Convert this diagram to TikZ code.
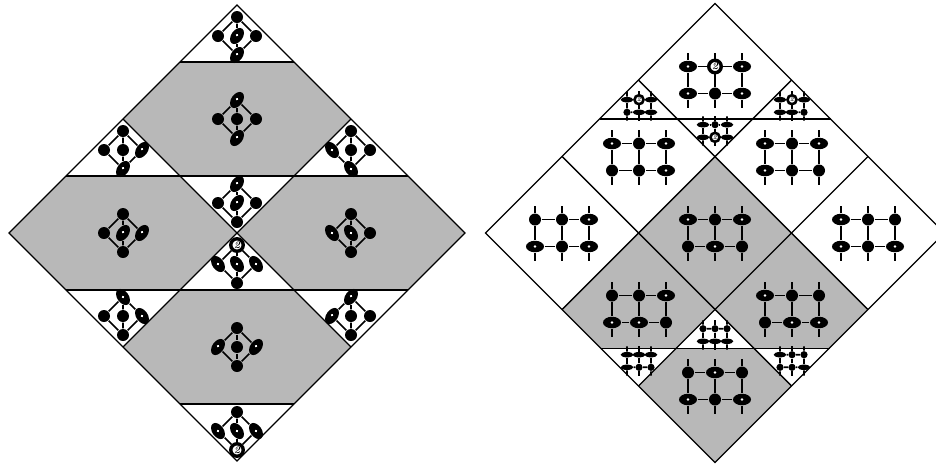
\documentclass[tikz,border=0pt]{standalone}
\usetikzlibrary{shapes.geometric}
\definecolor{cellgray}{gray}{0.72}
\begin{document}
\begin{tikzpicture}[x=1pt, y=-1pt, line width=1.3pt,
      bond/.style={line width=1.7pt},
      spot/.style={circle, fill=black, inner sep=0pt, minimum size=12pt},
      oval/.style={ellipse, fill=black, inner sep=0pt, minimum width=18pt, minimum height=11.5pt,
        path picture={\fill[white] (path picture bounding box.center) circle (1.3pt);}},
      lean/.style={oval, rotate=55},
      back/.style={oval, rotate=-55},
      wide/.style={oval},
      flat/.style={ellipse, fill=black, inner sep=0pt, minimum width=21pt, minimum height=9pt},
      ring/.style={circle, draw=black, line width=3.4pt, fill=white, inner sep=0pt, minimum size=12.5pt,
        label={[inner sep=0pt, font=\fontsize{10}{10}\selectfont\bfseries\itshape]center:2}},
      ringb/.style={ring, minimum size=15pt, line width=2.6pt}]
    \clip (0,0) rectangle (936,467);
    % left tiling
    \foreach \cx/\cy in {237/119, 123/233, 351/233, 237/347}
      \fill[cellgray] (\cx-57,\cy-57) -- (\cx+57,\cy-57) -- (\cx+114,\cy) -- (\cx+57,\cy+57) -- (\cx-57,\cy+57) -- (\cx-114,\cy) -- cycle;
    \draw (237,5) -- (465,233) -- (237,461) -- (9,233) -- cycle;
    \draw (123,119) -- (351,347);
    \draw (351,119) -- (123,347);
    \draw[line width=1.6pt] (180,62) -- (294,62);
    \draw[line width=1.6pt] (66,176) -- (408,176);
    \draw[line width=1.6pt] (66,290) -- (408,290);
    \draw[line width=1.6pt] (180,404) -- (294,404);
    % right tiling
    \fill[cellgray] (715,157) -- (791.4,233) -- (715,309.4) -- (638.6,233) -- cycle;
    \fill[cellgray] (638.6,233) -- (715,309.4) -- (677,348) -- (600.5,348) -- (562.2,309.4) -- cycle;
    \fill[cellgray] (791.4,233) -- (867.8,309.4) -- (829.5,348) -- (753,348) -- (715,309.4) -- cycle;
    \fill[cellgray] (677,348) -- (753,348) -- (791.4,385.8) -- (715,462.5) -- (638.6,385.8) -- cycle;
    \draw (715,3.5) -- (944.5,233) -- (715,462.5) -- (485.5,233) -- cycle;
    \draw (638.6,80.2) -- (867.8,309.4);
    \draw (791.4,80.2) -- (562.2,309.4);
    \draw (562.2,156.6) -- (791.4,385.8);
    \draw (867.8,156.6) -- (638.6,385.8);
    \draw[line width=1.6pt] (599.5,119) -- (830.5,119);
    \draw[line width=1pt] (600.5,348) -- (829.5,348);
    % diamond cells
    \foreach \nm/\cx/\cy/\st/\sl/\sm/\sr/\sb in {
        ta/237/36/spot/spot/lean/spot/lean,
        tb/237/119/lean/spot/spot/spot/lean,
        tc/123/150/spot/spot/spot/lean/lean,
        td/351/150/spot/back/spot/spot/back,
        te/237/203/lean/spot/lean/spot/spot,
        tf/123/233/spot/spot/lean/lean/spot,
        tg/351/233/spot/back/back/spot/spot,
        th/237/264/ring/back/back/back/spot,
        ti/123/316/back/spot/spot/back/spot,
        tj/351/316/lean/lean/spot/spot/spot,
        tk/237/347/spot/lean/spot/lean/spot,
        tl/237/431/spot/back/back/back/ring} {
      \begin{scope}[shift={(\cx,\cy)}]
        \node[\st] (\nm-t) at (0,-19) {};
        \node[\sl] (\nm-l) at (-19,0) {};
        \node[\sm] (\nm-m) at (0,0) {};
        \node[\sr] (\nm-r) at (19,0) {};
        \node[\sb] (\nm-b) at (0,19) {};
        \draw[bond] (\nm-t) -- (\nm-l) -- (\nm-b) -- (\nm-r) -- (\nm-t);
        \draw[bond] (\nm-t) -- (\nm-m) -- (\nm-b);
      \end{scope}
    }
    % rectangular cells
    \foreach \nm/\cx/\cy/\sc/\ox/\oy/\sa/\sb/\sd/\se/\sf/\sg in {
        ra/715/80/1/27/13.5/wide/ring/wide/wide/spot/wide,
        rb/639/157/1/27/13.5/wide/spot/wide/spot/spot/wide,
        rc/792/157/1/27/13.5/wide/spot/wide/wide/spot/spot,
        rd/562/233/1/27/13.5/spot/spot/wide/wide/spot/wide,
        re/868/233/1/27/13.5/wide/spot/spot/wide/spot/wide,
        rf/715/233/1/27/13.5/wide/spot/wide/spot/wide/spot,
        rg/639/309/1/27/13.5/spot/spot/wide/wide/wide/spot,
        rh/792/309/1/27/13.5/wide/spot/spot/spot/wide/wide,
        ri/715/386/1/27/13.5/spot/wide/spot/wide/spot/wide,
        sa/639/106/0.6/20/10.5/flat/ringb/flat/spot/flat/flat,
        sb/792/106/0.6/20/10.5/flat/ringb/flat/flat/flat/spot,
        sc/715/131/0.6/20/10.5/flat/spot/flat/flat/ringb/flat,
        sd/715/335/0.6/20/10.5/spot/spot/spot/flat/flat/flat,
        se/639/361/0.6/20/10.5/flat/flat/flat/flat/spot/spot,
        sf/792/361/0.6/20/10.5/flat/spot/spot/spot/spot/flat} {
      \begin{scope}[shift={(\cx,\cy)}, scale=\sc, every node/.append style={transform shape}]
        \node[\sa] (\nm-a) at (-\ox,-\oy) {};
        \node[\sb] (\nm-b) at (0,-\oy) {};
        \node[\sd] (\nm-c) at (\ox,-\oy) {};
        \node[\se] (\nm-d) at (-\ox,\oy) {};
        \node[\sf] (\nm-e) at (0,\oy) {};
        \node[\sg] (\nm-f) at (\ox,\oy) {};
        \draw[bond] (\nm-a) -- (\nm-b) -- (\nm-c) -- (\nm-f) -- (\nm-e) -- (\nm-d) -- (\nm-a);
        \draw[bond] (\nm-b) -- (\nm-e);
        \foreach \ve in {a,b,c}
          \draw[bond] (\nm-\ve) -- ++(0,-14);
        \foreach \ve in {d,e,f}
          \draw[bond] (\nm-\ve) -- ++(0,14);
      \end{scope}
    }
  \end{tikzpicture}
\end{document}
